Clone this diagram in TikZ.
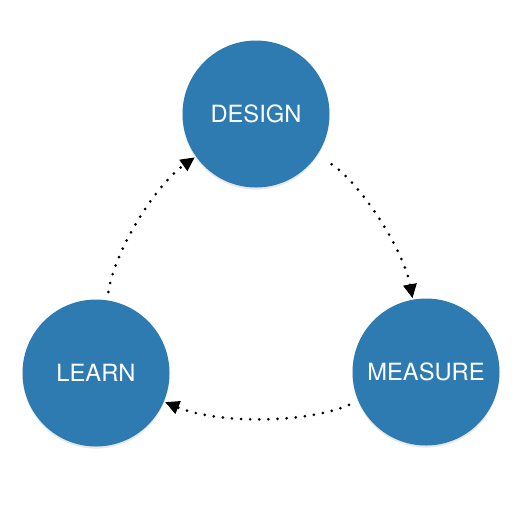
\documentclass[tikz,border=0pt]{standalone}
\usepackage{fontspec}
\setmainfont{TeX Gyre Heros}
\usetikzlibrary{arrows.meta,shadows}
\definecolor{stageblue}{RGB}{45,123,176}

\begin{document}
\begin{tikzpicture}[x=0.02cm,y=-0.02cm,
                    ->,>={Triangle[length=8pt,width=7.5pt]},
                    line width=1.7pt,line cap=round,
                    dash pattern=on 0pt off 5.2pt]
  \tikzset{stage/.style={circle,fill=stageblue,draw=none,solid,
                         minimum size=147*0.02cm,inner sep=0pt,
                         text=white,font=\fontsize{13.5}{16}\selectfont,
                         drop shadow={opacity=0.18,shadow xshift=0pt,
                                      shadow yshift=-1.2pt}}}
  \useasboundingbox (0,0) rectangle (524,508);

  \node[stage] (D) at (256,114) {DESIGN};
  \node[stage] (M) at (426,372) {MEASURE};
  \node[stage] (L) at (96,373)  {LEARN};

  \path (D) edge[bend left=23,looseness=0.75,shorten <=9pt] node{} (M)
        (M) edge[bend left=23,looseness=0.75,shorten <=5pt] node{} (L)
        (L) edge[bend left=23,looseness=0.75,shorten <=4pt] node{} (D)
;
\end{tikzpicture}
\end{document}
